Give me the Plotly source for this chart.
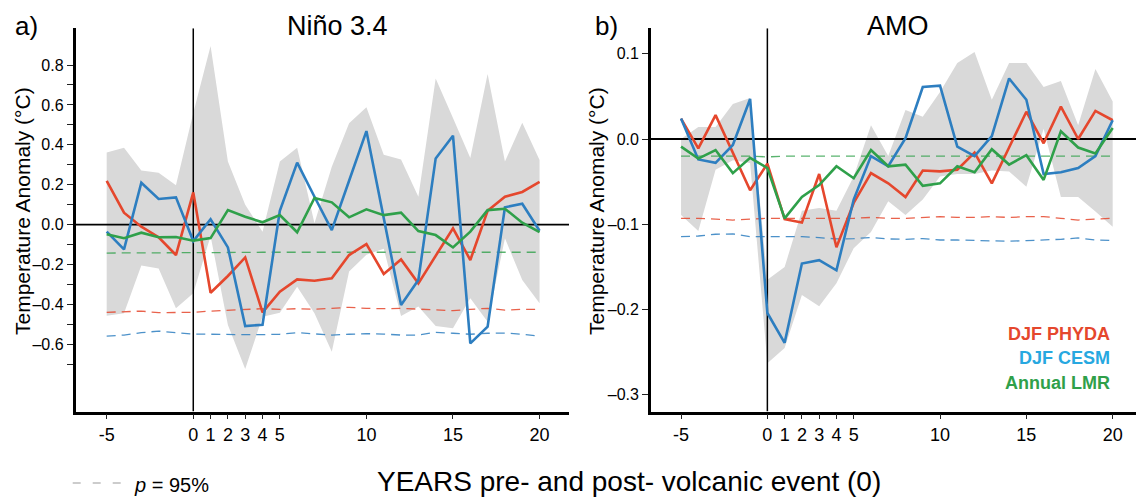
import plotly.graph_objects as go

W, H = 1136, 499

# ---------------- data ----------------
years = list(range(-5, 21))
year_ticks = [-5, 0, 1, 2, 3, 4, 5, 10, 15, 20]
year_tick_text = ["-5", "0", "1", "2", "3", "4", "5", "10", "15", "20"]

# Niño 3.4 composites (°C)
nino_phyda = [0.220, 0.060, -0.010, -0.063, -0.152, 0.162, -0.341, -0.257, -0.164, -0.439,
              -0.336, -0.274, -0.281, -0.269, -0.152, -0.097, -0.247, -0.174, -0.294, -0.157,
              -0.018, -0.177, 0.070, 0.140, 0.164, 0.214]
nino_cesm = [-0.035, -0.124, 0.210, 0.129, 0.137, -0.082, 0.027, -0.114, -0.508, -0.501,
             0.070, 0.311, 0.140, -0.027, 0.220, 0.469, 0.033, -0.402, -0.277, 0.332,
             0.446, -0.595, -0.511, 0.087, 0.105, -0.030]
nino_lmr = [-0.048, -0.068, -0.040, -0.063, -0.062, -0.080, -0.067, 0.073, 0.040, 0.012,
            0.048, -0.038, 0.134, 0.112, 0.037, 0.077, 0.048, 0.060, -0.032, -0.052,
            -0.114, -0.035, 0.073, 0.080, 0.010, -0.037]
nino_band_hi = [0.362, 0.386, 0.271, 0.260, 0.197, 0.560, 0.895, 0.316, 0.100, -0.035,
                0.316, 0.386, 0.007, 0.290, 0.508, 0.588, 0.350, 0.327, 0.140, 0.733,
                0.534, 0.334, 0.755, 0.316, 0.511, 0.324]
nino_band_lo = [-0.456, -0.444, -0.205, -0.219, -0.419, -0.344, -0.057, -0.503, -0.723, -0.461,
                -0.441, -0.311, -0.444, -0.636, -0.235, -0.150, -0.120, -0.458, -0.410, -0.508,
                -0.519, -0.369, -0.486, -0.068, -0.277, -0.394]
nino_sig_phyda = [-0.439, -0.436, -0.433, -0.441, -0.439, -0.439, -0.433, -0.428, -0.424, -0.421,
                  -0.424, -0.421, -0.424, -0.419, -0.414, -0.419, -0.421, -0.419, -0.424, -0.428,
                  -0.431, -0.424, -0.419, -0.428, -0.424, -0.424]
nino_sig_cesm = [-0.558, -0.553, -0.541, -0.533, -0.541, -0.548, -0.549, -0.551, -0.551, -0.551,
                 -0.549, -0.541, -0.548, -0.553, -0.549, -0.546, -0.548, -0.553, -0.553, -0.539,
                 -0.544, -0.549, -0.544, -0.543, -0.549, -0.558]
nino_sig_lmr = [-0.142, -0.142, -0.140, -0.140, -0.140, -0.140, -0.139, -0.139, -0.139, -0.138,
                -0.138, -0.138, -0.138, -0.138, -0.137, -0.137, -0.137, -0.136, -0.136, -0.136,
                -0.135, -0.135, -0.135, -0.136, -0.137, -0.138]
nino_ticks = [-0.7, -0.6, -0.5, -0.4, -0.3, -0.2, -0.1, 0.0, 0.1, 0.2, 0.3, 0.4, 0.5, 0.6, 0.7, 0.8]
nino_tick_text = ["", "\u20130.6", "", "\u20130.4", "", "\u20130.2", "", "0.0",
                  "", "0.2", "", "0.4", "", "0.6", "", "0.8"]

# AMO composites (°C)
amo_phyda = [0.024, -0.011, 0.028, -0.017, -0.060, -0.029, -0.094, -0.098, -0.041, -0.127,
             -0.075, -0.040, -0.052, -0.068, -0.037, -0.038, -0.036, -0.016, -0.052, -0.010,
             0.032, -0.005, 0.038, 0.000, 0.033, 0.022]
amo_cesm = [0.024, -0.024, -0.028, -0.007, 0.047, -0.204, -0.239, -0.146, -0.142, -0.154,
            -0.071, -0.020, -0.032, 0.001, 0.061, 0.0625, -0.009, -0.020, 0.0035, 0.071,
            0.046, -0.041, -0.039, -0.034, -0.020, 0.022]
amo_lmr = [-0.009, -0.023, -0.013, -0.040, -0.022, -0.034, -0.093, -0.068, -0.054, -0.032,
           -0.046, -0.013, -0.032, -0.030, -0.055, -0.052, -0.032, -0.039, -0.012, -0.030,
           -0.019, -0.048, 0.009, -0.010, -0.017, 0.013]
amo_band_hi = [0.000, 0.014, 0.014, 0.041, 0.048, -0.165, -0.150, -0.084, -0.081, -0.084,
               -0.044, 0.016, -0.020, 0.034, 0.026, 0.055, 0.089, 0.102, 0.046, 0.089,
               0.089, 0.061, 0.068, 0.016, 0.082, 0.044]
amo_band_lo = [-0.089, -0.108, -0.036, -0.025, -0.028, -0.263, -0.245, -0.183, -0.196, -0.169,
               -0.128, -0.109, -0.073, -0.089, -0.071, -0.044, -0.041, -0.041, -0.037, -0.038,
               -0.056, 0.012, -0.068, -0.068, -0.085, -0.103]
amo_sig_phyda = [-0.093, -0.093, -0.094, -0.095, -0.094, -0.093, -0.093, -0.093, -0.093, -0.093,
                 -0.093, -0.092, -0.093, -0.093, -0.092, -0.091, -0.092, -0.092, -0.091, -0.092,
                 -0.091, -0.091, -0.093, -0.095, -0.094, -0.093]
amo_sig_cesm = [-0.1145, -0.1137, -0.1117, -0.1113, -0.1145, -0.1145, -0.1145, -0.1145, -0.1156, -0.1172,
                -0.1168, -0.1156, -0.1172, -0.1176, -0.1168, -0.1184, -0.1184, -0.1188, -0.1199, -0.1199,
                -0.1191, -0.1184, -0.1176, -0.1160, -0.1184, -0.1191]
amo_sig_lmr = [-0.020, -0.020, -0.020, -0.020, -0.020, -0.021, -0.020, -0.020, -0.020, -0.020,
               -0.020, -0.020, -0.020, -0.020, -0.020, -0.020, -0.020, -0.020, -0.020, -0.020,
               -0.020, -0.020, -0.020, -0.020, -0.020, -0.020]
amo_ticks = [-0.3, -0.2, -0.1, 0.0, 0.1]
amo_tick_text = ["\u20130.3", "\u20130.2", "\u20130.1", "0.0", "0.1"]

# ---------------- styling ----------------
FONT = "Liberation Sans, Arial, Helvetica, sans-serif"
RED = "#e5472d"
BLUE = "#2d7ec0"
GREEN = "#2fa04a"
BAND = "#d9d9d9"
SIG_RED = "rgba(229,71,45,0.85)"
SIG_BLUE = "rgba(45,126,192,0.85)"
SIG_GREEN = "rgba(47,160,74,0.8)"

nino_xrange = [-6.79, 21.70]
nino_yrange = [-0.936, 0.984]
amo_xrange = [-6.74, 21.35]
amo_yrange = [-0.3195, 0.1298]

y_dom = [1 - 411.5 / H, 1 - 28.3 / H]

fig = go.Figure()


def add_panel(xa, ya, xr, yr, lo, hi, phyda, cesm, lmr, s_phyda, s_cesm, s_lmr):
    common = dict(xaxis=xa, yaxis=ya, showlegend=False, hoverinfo="skip")
    # spread of the composite
    fig.add_trace(go.Scatter(x=years, y=lo, mode="lines", line=dict(width=0), **common))
    fig.add_trace(go.Scatter(x=years, y=hi, mode="lines", line=dict(width=0),
                             fill="tonexty", fillcolor=BAND, **common))
    # reference lines at the eruption year and zero anomaly
    fig.add_trace(go.Scatter(x=[0, 0], y=yr, mode="lines",
                             line=dict(color="black", width=1.5), **common))
    fig.add_trace(go.Scatter(x=xr, y=[0, 0], mode="lines",
                             line=dict(color="black", width=1.8), **common))
    # 95% significance levels
    for s, c in ((s_phyda, SIG_RED), (s_cesm, SIG_BLUE), (s_lmr, SIG_GREEN)):
        fig.add_trace(go.Scatter(x=years, y=s, mode="lines",
                                 line=dict(color=c, width=1.3, dash="9px,6px"), **common))
    # composites
    for v, c in ((phyda, RED), (cesm, BLUE), (lmr, GREEN)):
        fig.add_trace(go.Scatter(x=years, y=v, mode="lines",
                                 line=dict(color=c, width=2.6), **common))


add_panel("x", "y", nino_xrange, nino_yrange, nino_band_lo, nino_band_hi,
          nino_phyda, nino_cesm, nino_lmr, nino_sig_phyda, nino_sig_cesm, nino_sig_lmr)
add_panel("x2", "y2", amo_xrange, amo_yrange, amo_band_lo, amo_band_hi,
          amo_phyda, amo_cesm, amo_lmr, amo_sig_phyda, amo_sig_cesm, amo_sig_lmr)

xcommon = dict(tickvals=year_ticks, ticktext=year_tick_text, ticks="outside", ticklen=5,
               tickwidth=1.3, tickcolor="#222", showline=True, linewidth=2.8, linecolor="black",
               showgrid=False, zeroline=False, tickfont=dict(family=FONT, size=18, color="black"),
               automargin=False, fixedrange=True)
ycommon = dict(ticks="outside", ticklen=6, tickwidth=1.3, tickcolor="#222", showline=True,
               linewidth=2.8, linecolor="black", showgrid=False, zeroline=False,
               tickfont=dict(family=FONT, size=16, color="black"), automargin=False,
               fixedrange=True, domain=y_dom)

fig.update_layout(
    width=W, height=H,
    margin=dict(l=0, r=0, t=0, b=0),
    paper_bgcolor="white", plot_bgcolor="white",
    font=dict(family=FONT, color="black"),
    xaxis=dict(domain=[75.7 / W, 569 / W], range=nino_xrange, anchor="y", **xcommon),
    yaxis=dict(range=nino_yrange, anchor="x", tickvals=nino_ticks, ticktext=nino_tick_text,
               **ycommon),
    xaxis2=dict(domain=[651 / W, 1.0], range=amo_xrange, anchor="y2", **xcommon),
    yaxis2=dict(range=amo_yrange, anchor="x2", tickvals=amo_ticks, ticktext=amo_tick_text,
                **ycommon),
)


def px(x):
    return x / W


def py(y):
    return 1 - y / H


annotations = [
    dict(text="a)", x=px(26), y=py(26), size=26),
    dict(text="Niño 3.4", x=px(337), y=py(26), size=27),
    dict(text="b)", x=px(606), y=py(26), size=26),
    dict(text="AMO", x=px(897.5), y=py(26), size=27),
    dict(text="YEARS pre- and post- volcanic event (0)", x=px(628.5), y=py(481), size=28),
]
for a in annotations:
    fig.add_annotation(text=a["text"], x=a["x"], y=a["y"], xref="paper", yref="paper",
                       xanchor="center", yanchor="middle", showarrow=False,
                       font=dict(family=FONT, size=a["size"], color="black"))

for xc in (22, 596):
    fig.add_annotation(text="Temperature Anomaly (°C)", x=px(xc), y=py(211),
                       xref="paper", yref="paper", xanchor="center", yanchor="middle",
                       textangle=-90, showarrow=False,
                       font=dict(family=FONT, size=21, color="black"))

# series key
for label, color, yc in (("DJF PHYDA", "#e5472d", 334), ("DJF CESM", "#27a8e0", 358),
                         ("Annual LMR", "#2fa04a", 382.5)):
    fig.add_annotation(text="<b>%s</b>" % label, x=px(1112), y=py(yc), xref="paper",
                       yref="paper", xanchor="right", yanchor="middle", showarrow=False,
                       font=dict(family=FONT, size=18, color=color))

# significance key
fig.add_shape(type="line", xref="paper", yref="paper", x0=px(72.7), x1=px(124),
              y0=py(483), y1=py(483), line=dict(color="#9a9a9a", width=1.2, dash="8px,12px"))
fig.add_annotation(text="<i>p</i> = 95%", x=px(132), y=py(485), xref="paper", yref="paper",
                   xanchor="left", yanchor="middle", showarrow=False,
                   font=dict(family=FONT, size=20, color="black"))

fig.write_html("out.html")
